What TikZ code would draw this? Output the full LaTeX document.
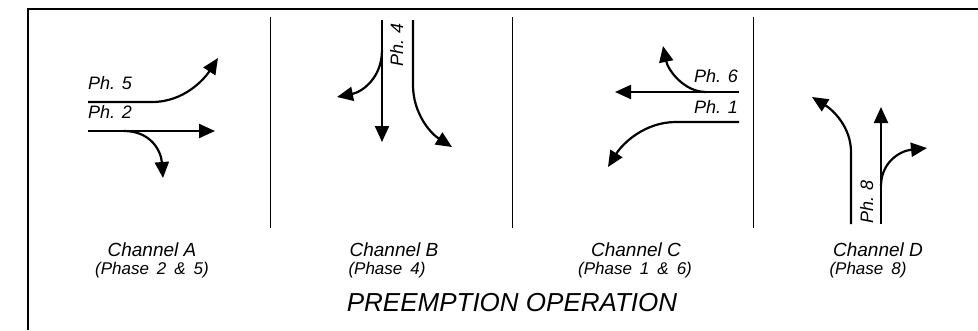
\documentclass[tikz,border=0pt]{standalone}
\usepackage{fontspec}
\setmainfont{Liberation Sans}
\usetikzlibrary{arrows.meta}
\newcommand\gapp{\hspace{8pt}}
\begin{document}
\begin{tikzpicture}[x=1pt,y=-1pt,
  flow/.style={line width=2.2pt,-{Triangle[length=16pt,width=14pt]}},
  divider/.style={line width=1pt},
  frame/.style={line width=2.4pt},
  ph/.style={font=\fontsize{18}{18}\selectfont\itshape,inner sep=0pt},
  chan/.style={font=\fontsize{19}{19}\selectfont\itshape,inner sep=0pt,anchor=base},
  phase/.style={font=\fontsize{17}{17}\selectfont\itshape,inner sep=0pt,anchor=base},
  title/.style={font=\fontsize{26}{26}\selectfont\itshape,inner sep=0pt,anchor=base}]
\useasboundingbox (0,0) rectangle (978,330);
% frame
\coordinate (fbl) at (28,330);
\coordinate (ftl) at (28,9);
\coordinate (ftr) at (978,9);
\draw[frame] (fbl) -- (ftl) -- (ftr);
% dividers
\foreach \n/\x in {d1/270,d2/512,d3/753}{
  \coordinate (\n t) at (\x,17);
  \coordinate (\n b) at (\x,228);
  \draw[divider] (\n t) -- (\n b);
}
% ---- Channel A
\coordinate (a5s) at (88,102);
\coordinate (a5m) at (152,102);
\coordinate (a5e) at (218,58);
\draw[flow] (a5s) -- (a5m) .. controls (185,102) and (205,78) .. (a5e);
\coordinate (a2s) at (88,131);
\coordinate (a2e) at (215,131);
\draw[flow] (a2s) -- (a2e);
\coordinate (a2b) at (124,131);
\coordinate (a2r) at (163,178);
\draw[flow] (a2b) .. controls (150,131) and (161,150) .. (a2r);
\node[ph,anchor=base west] (pa5) at (88,89) {Ph. 5};
\node[ph,anchor=base west] (pa2) at (88,118) {Ph. 2};
% ---- Channel B
\coordinate (b4s) at (382,20);
\coordinate (b4e) at (382,142);
\draw[flow] (b4s) -- (b4e);
\coordinate (b4b) at (382,50);
\coordinate (b4l) at (337,97);
\draw[flow] (b4b) .. controls (382,78) and (362,92) .. (b4l);
\coordinate (b4rs) at (413,20);
\coordinate (b4rm) at (413,85);
\coordinate (b4re) at (452,147);
\draw[flow] (b4rs) -- (b4rm) .. controls (413,113) and (430,133) .. (b4re);
\node[ph,rotate=90,anchor=base west] (pb4) at (403,67) {Ph. 4};
% ---- Channel C
\coordinate (c6s) at (739,92);
\coordinate (c6e) at (615,92);
\draw[flow] (c6s) -- (c6e);
\coordinate (c6b) at (706,92);
\coordinate (c6l) at (663,46);
\draw[flow] (c6b) .. controls (684,92) and (668,70) .. (c6l);
\coordinate (c1s) at (739,122);
\coordinate (c1m) at (676,122);
\coordinate (c1e) at (608,167);
\draw[flow] (c1s) -- (c1m) .. controls (645,122) and (623,143) .. (c1e);
\node[ph,anchor=base east] (pc6) at (738,82) {Ph. 6};
\node[ph,anchor=base east] (pc1) at (738,113) {Ph. 1};
% ---- Channel D
\coordinate (d8ls) at (851,224);
\coordinate (d8lm) at (851,152);
\coordinate (d8le) at (812,97);
\draw[flow] (d8ls) -- (d8lm) .. controls (851,127) and (833,110) .. (d8le);
\coordinate (d8s) at (881,224);
\coordinate (d8e) at (881,107);
\draw[flow] (d8s) -- (d8e);
\coordinate (d8b) at (881,186);
\coordinate (d8r) at (927,148);
\draw[flow] (d8b) .. controls (881,163) and (899,151) .. (d8r);
\node[ph,rotate=90,anchor=base west] (pd8) at (873,224) {Ph. 8};
% ---- labels
\node[chan] (cha) at (152,256) {Channel A};
\node[phase] (pha) at (152,274) {(Phase\gapp 2\gapp\&\gapp 5)};
\node[chan] (chb) at (394,256) {Channel B};
\node[phase] (phb) at (387,274) {(Phase\gapp 4)};
\node[chan] (chc) at (636,256) {Channel C};
\node[phase] (phc) at (635,274) {(Phase\gapp 1\gapp\&\gapp 6)};
\node[chan] (chd) at (878,256) {Channel D};
\node[phase] (phd) at (868,274) {(Phase\gapp 8)};
\node[title] (ttl) at (512,311) {PREEMPTION OPERATION};
\end{tikzpicture}
\end{document}
